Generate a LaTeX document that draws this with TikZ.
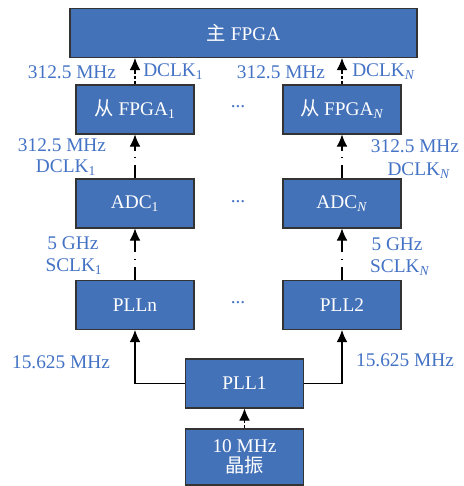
\documentclass[tikz,border=0pt]{standalone}
\usepackage{fontspec}
\setmainfont{Liberation Serif}
\newfontfamily\cjk{Noto Sans CJK SC}
\usetikzlibrary{arrows.meta}
\definecolor{boxblue}{RGB}{68,114,184}
\definecolor{txtblue}{RGB}{68,114,196}
\tikzset{
  blk/.style={draw=black!80,line width=0.8pt,fill=boxblue,text=white,
    minimum width=88.5pt,minimum height=36.75pt,inner sep=0pt,align=center},
  lbl/.style={text=txtblue,inner sep=0pt},
  sig/.style={line width=0.8pt,-{Latex[length=9pt,width=8pt]},
    dash pattern=on 10pt off 5pt on 0.8pt off 5pt},
  dout/.style={line width=0.8pt,-{Latex[length=9pt,width=8pt]},
    dash pattern=on 2.5pt off 1.5pt},
  feed/.style={line width=0.8pt,-{Latex[length=9pt,width=8pt]}}
}
\begin{document}
\begin{tikzpicture}[x=0.75pt,y=-0.75pt,font=\fontsize{14.5pt}{17pt}\selectfont]
\useasboundingbox (0,0) rectangle (464,486);
%------------------------------
% boxes
%______________________________
\node[blk,minimum width=260.25pt] (main) at (243.5,33) {{\cjk 主} FPGA};
\node[blk] (fpga1) at (135,109.5) {{\cjk 从} FPGA\textsubscript{1}};
\node[blk] (fpgaN) at (342,109.5) {{\cjk 从} FPGA\textsubscript{\textit{N}}};
\node[blk] (adc1) at (135,203.5) {ADC\textsubscript{1}};
\node[blk] (adcN) at (342,203.5) {ADC\textsubscript{\textit{N}}};
\node[blk] (plln) at (135,305) {PLLn};
\node[blk] (pll2) at (342,305) {PLL2};
\node[blk] (pll1) at (244.5,383.5) {PLL1};
\node[blk,minimum height=42pt] (osc) at (244.5,457) {10 MHz\\[-2pt]{\cjk 晶振}};
%
\node[lbl] (d1) at (238,107) {...};
\node[lbl] (d2) at (238,202) {...};
\node[lbl] (d3) at (238,303) {...};
%------------------------------
% connectors
%______________________________
\draw[dout] (fpga1.north) -- (fpga1.north |- main.south);
\draw[dout] (fpgaN.north) -- (fpgaN.north |- main.south);
\draw[sig] (adc1.north) -- (fpga1.south);
\draw[sig] (adcN.north) -- (fpgaN.south);
\draw[sig] (plln.north) -- (adc1.south);
\draw[sig] (pll2.north) -- (adcN.south);
\draw[feed] (pll1.west) -| (plln.south);
\draw[feed] (pll1.east) -| (pll2.south);
\draw[dout] (osc.north) -- (pll1.south);
%------------------------------
% labels
%______________________________
\node[lbl] (f1a) at (72,72) {312.5 MHz};
\node[lbl,anchor=west] (f1b) at (143,72) {DCLK\textsubscript{1}};
\node[lbl] (fNa) at (281,72) {312.5 MHz};
\node[lbl,anchor=west] (fNb) at (352,72) {DCLK\textsubscript{\textit{N}}};
\node[lbl] (a1a) at (62,145) {312.5 MHz};
\node[lbl] (a1b) at (66,168) {DCLK\textsubscript{1}};
\node[lbl] (aNa) at (415,146) {312.5 MHz};
\node[lbl] (aNb) at (419,171) {DCLK\textsubscript{\textit{N}}};
\node[lbl] (p1a) at (73,243) {5 GHz};
\node[lbl] (p1b) at (74,267) {SCLK\textsubscript{1}};
\node[lbl] (pNa) at (397,244) {5 GHz};
\node[lbl] (pNb) at (400,268) {SCLK\textsubscript{\textit{N}}};
\node[lbl] (r1) at (61,362) {15.625 MHz};
\node[lbl] (r2) at (405,360) {15.625 MHz};
\end{tikzpicture}
\end{document}
